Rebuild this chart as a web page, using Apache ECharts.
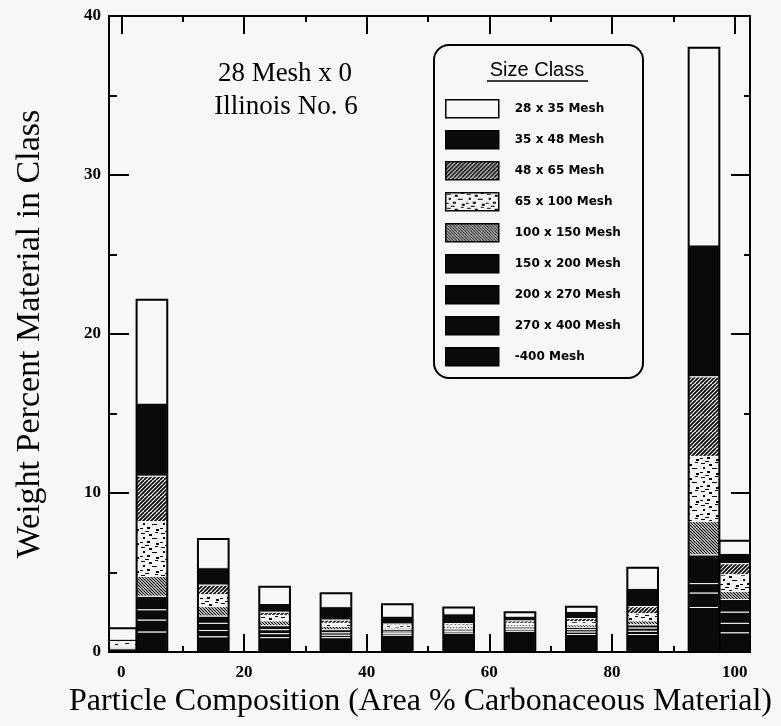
<!DOCTYPE html>
<html>
<head>
<meta charset="utf-8">
<script src="https://cdn.jsdelivr.net/npm/echarts@6/dist/echarts.min.js"></script>
<style>
  html, body { margin: 0; padding: 0; background: #f7f7f7; }
  #chart { width: 781px; height: 726px; }
</style>
</head>
<body>
<div id="chart"></div>
<script>
// Particle composition classes (Area % carbonaceous material)
const compositions = [0, 5, 15, 25, 35, 45, 55, 65, 75, 85, 95, 100];

// Size classes, listed top of stack first
const sizeClasses = [
  '28 x 35 Mesh', '35 x 48 Mesh', '48 x 65 Mesh', '65 x 100 Mesh', '100 x 150 Mesh',
  '150 x 200 Mesh', '200 x 270 Mesh', '270 x 400 Mesh', '-400 Mesh'
];

// Weight percent of material in each composition class, per size class
const mesh28x35   = [0.70, 6.50, 1.80, 1.05, 0.85, 0.75, 0.40, 0.25, 0.30, 1.30, 12.4, 0.80];
const mesh35x48   = [0.15, 4.60, 1.10, 0.55, 0.85, 0.50, 0.62, 0.30, 0.45, 1.15, 8.30, 0.65];
const mesh48x65   = [0.05, 2.85, 0.60, 0.20, 0.20, 0.10, 0.10, 0.15, 0.20, 0.45, 5.00, 0.70];
const mesh65x100  = [0.20, 3.45, 0.75, 0.35, 0.20, 0.15, 0.10, 0.10, 0.20, 0.45, 4.10, 1.05];
const mesh100x150 = [0.05, 1.25, 0.60, 0.30, 0.20, 0.10, 0.10, 0.10, 0.15, 0.25, 2.10, 0.50];
const mesh150x200 = [0.05, 0.85, 0.45, 0.25, 0.20, 0.15, 0.10, 0.10, 0.15, 0.20, 1.80, 0.80];
const mesh200x270 = [0.05, 0.65, 0.45, 0.25, 0.15, 0.10, 0.10, 0.10, 0.15, 0.20, 0.60, 0.70];
const mesh270x400 = [0.05, 0.75, 0.40, 0.25, 0.15, 0.10, 0.10, 0.10, 0.15, 0.20, 0.90, 0.60];
const meshMinus400 = [0.20, 1.25, 0.95, 0.90, 0.90, 1.05, 1.18, 1.30, 1.10, 1.10, 2.80, 1.20];

// Axis ticks and labels
const xTicksMajor = [0, 20, 40, 60, 80, 100];
const xTicksMinor = [10, 30, 50, 70, 90];
const yTickValues = [0, 10, 20, 30, 40];

const classValues = [mesh28x35, mesh35x48, mesh48x65, mesh65x100, mesh100x150,
  mesh150x200, mesh200x270, mesh270x400, meshMinus400];

// ---- fill textures ----
function tile(w, h, draw) {
  const c = document.createElement('canvas');
  c.width = w; c.height = h;
  const g = c.getContext('2d');
  draw(g, w, h);
  return { image: c, repeat: 'repeat' };
}
function hatch(step, width, dir, bg) {
  return tile(step * 4, step * 4, (g, w, h) => {
    g.fillStyle = bg; g.fillRect(0, 0, w, h);
    g.strokeStyle = '#000'; g.lineWidth = width;
    for (let k = -h; k <= w + h; k += step) {
      g.beginPath();
      if (dir > 0) { g.moveTo(k, h); g.lineTo(k + h, 0); }
      else { g.moveTo(k, 0); g.lineTo(k + h, h); }
      g.stroke();
    }
  });
}
const solidBlack = '#0a0a0a';
// light ground with scattered dark flecks
const mottled = tile(20, 14, (g) => {
  g.fillStyle = '#f4f4f4'; g.fillRect(0, 0, 20, 14);
  g.fillStyle = '#000';
  const flecks = [[1,1,4,1],[9,2,3,2],[15,0,3,1],[3,5,2,2],[12,6,5,1],[0,10,3,1],[7,9,3,2],[16,11,3,2],[5,13,4,1]];
  flecks.forEach(b => g.fillRect(b[0], b[1], b[2], b[3]));
});
const fills = [
  '#f7f7f7',                       // 28 x 35
  solidBlack,                      // 35 x 48
  hatch(4, 1.7, 1, '#f4f4f4'),     // 48 x 65
  mottled,                         // 65 x 100
  hatch(3, 1.1, -1, '#f4f4f4'),    // 100 x 150
  solidBlack, solidBlack, solidBlack, solidBlack
];

// ---- stacked ranges, built from the bottom (-400 Mesh) upward ----
const stackRanges = new Array(classValues.length);
const running = compositions.map(() => 0);
for (let i = classValues.length - 1; i >= 0; i--) {
  stackRanges[i] = compositions.map((c, j) => {
    const lo = running[j];
    running[j] += classValues[i][j];
    return [c, lo, running[j]];
  });
}
const barTotals = compositions.map((c, j) => [c, 0, running[j]]);

const BAR_W = 5; // bar width in composition units

function barRect(params, api) {
  const cs = params.coordSys;
  const x = api.value(0);
  const lo = api.coord([x, api.value(1)]);
  const hi = api.coord([x, api.value(2)]);
  const half = api.size([BAR_W, 0])[0] / 2;
  const x0 = Math.max(lo[0] - half, cs.x);
  const x1 = Math.min(lo[0] + half, cs.x + cs.width);
  return { x: x0, y: hi[1], width: x1 - x0, height: lo[1] - hi[1] };
}

const series = sizeClasses.map((name, i) => ({
  name: name,
  type: 'custom',
  xAxisIndex: 0,
  yAxisIndex: 0,
  itemStyle: { color: fills[i] },
  encode: { x: 0, y: [1, 2] },
  data: stackRanges[i],
  renderItem: (params, api) => ({
    type: 'rect',
    shape: barRect(params, api),
    style: { fill: fills[i], stroke: '#f7f7f7', lineWidth: 1 }
  })
}));
// outer outline of each stacked bar
series.push({
  name: 'outline',
  type: 'custom',
  xAxisIndex: 0,
  yAxisIndex: 0,
  encode: { x: 0, y: [1, 2] },
  data: barTotals,
  silent: true,
  z: 5,
  renderItem: (params, api) => ({
    type: 'rect',
    shape: barRect(params, api),
    style: { fill: 'none', stroke: '#000', lineWidth: 2 }
  })
});

const serifFont = '"Liberation Serif", "DejaVu Serif", serif';
const axisLineStyle = { color: '#000', width: 2 };

function xAxisDef(position, ticks, len, withLine, withLabel) {
  return {
    type: 'value', position: position, min: -2, max: 102.5,
    axisLine: { show: withLine, onZero: false, lineStyle: axisLineStyle },
    axisTick: { show: true, inside: true, length: len, customValues: ticks, lineStyle: { color: '#000', width: 2 } },
    axisLabel: withLabel
      ? { show: true, customValues: ticks, margin: 12, color: '#000', fontFamily: serifFont, fontWeight: 'bold', fontSize: 17 }
      : { show: false },
    splitLine: { show: false }
  };
}

const xAxes = [
  xAxisDef('bottom', xTicksMajor, 18, true, true),
  xAxisDef('bottom', xTicksMinor, 6, false, false),
  xAxisDef('top', xTicksMajor, 18, true, false),
  xAxisDef('top', xTicksMinor, 6, false, false)
];
xAxes[0].name = 'Particle Composition (Area % Carbonaceous Material)';
xAxes[0].nameLocation = 'middle';
xAxes[0].nameGap = 32;
xAxes[0].nameTextStyle = { fontFamily: serifFont, fontSize: 32, color: '#000', padding: [0, 18, 0, 0] };

function yAxisDef(position, majorLen, minorLen, withLabel) {
  return {
    type: 'value', position: position, min: 0, max: 40, interval: 10,
    axisLine: { show: true, onZero: false, lineStyle: axisLineStyle },
    axisTick: { show: true, inside: true, length: majorLen, lineStyle: { color: '#000', width: 2 } },
    minorTick: { show: true, splitNumber: 2, length: minorLen, lineStyle: { color: '#000', width: 2 } },
    axisLabel: withLabel
      ? { show: true, margin: 8, color: '#000', fontFamily: serifFont, fontWeight: 'bold', fontSize: 17,
          formatter: v => (yTickValues.indexOf(v) >= 0 ? String(v) : '') }
      : { show: false },
    splitLine: { show: false },
    minorSplitLine: { show: false }
  };
}
const yAxes = [yAxisDef('left', 20, 8, true), yAxisDef('right', 19, 6, false)];
yAxes[0].name = 'Weight Percent Material in Class';
yAxes[0].nameLocation = 'middle';
yAxes[0].nameGap = 62;
yAxes[0].nameTextStyle = { fontFamily: serifFont, fontSize: 34, color: '#000' };

const chart = echarts.init(document.getElementById('chart'), null, { renderer: 'canvas' });
chart.setOption({
  backgroundColor: '#f7f7f7',
  animation: false,
  grid: { left: 109, right: 31, top: 16, bottom: 74, containLabel: false, outerBoundsMode: 'none' },
  xAxis: xAxes,
  yAxis: yAxes,
  legend: {
    data: sizeClasses,
    orient: 'vertical',
    left: 445,
    top: 99,
    padding: 0,
    icon: 'rect',
    itemWidth: 53,
    itemHeight: 18,
    itemGap: 11.5,
    selectedMode: false,
    itemStyle: { borderColor: '#000', borderWidth: 1.5 },
    textStyle: { fontFamily: '"DejaVu Sans", sans-serif', fontWeight: 'bold', fontSize: 12, color: '#000', padding: [0, 0, 0, 11] }
  },
  graphic: [
    { type: 'rect', left: 433, top: 44, z: -1,
      shape: { width: 209, height: 333, r: 15 },
      style: { fill: '#f7f7f7', stroke: '#000', lineWidth: 2 } },
    { type: 'text', x: 537, y: 70, z: 10,
      style: { text: 'Size Class', fill: '#000', font: '20px "Liberation Sans", Arial, sans-serif', align: 'center', verticalAlign: 'middle' } },
    { type: 'line', z: 10,
      shape: { x1: 487, y1: 81, x2: 588, y2: 81 },
      style: { stroke: '#000', lineWidth: 1.5 } },
    { type: 'text', x: 285, y: 74, z: 10,
      style: { text: '28 Mesh x 0', fill: '#000', font: '27px "Liberation Serif", serif', align: 'center', verticalAlign: 'middle' } },
    { type: 'text', x: 286, y: 107, z: 10,
      style: { text: 'Illinois No. 6', fill: '#000', font: '27px "Liberation Serif", serif', align: 'center', verticalAlign: 'middle' } }
  ],
  series: series
});
</script>
</body>
</html>
